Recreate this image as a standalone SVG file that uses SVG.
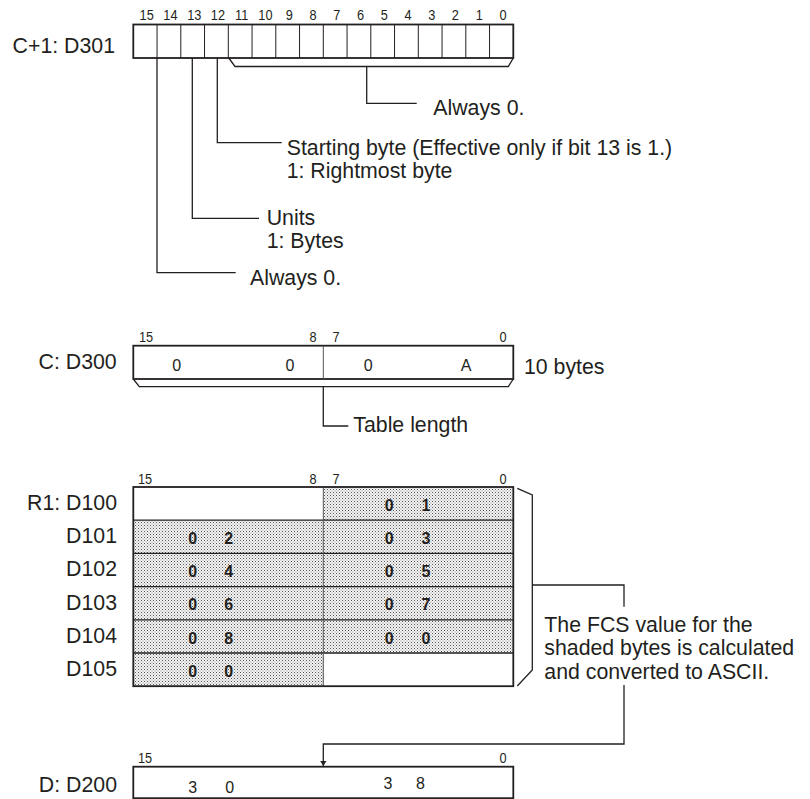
<svg xmlns="http://www.w3.org/2000/svg" width="810" height="799" viewBox="0 0 810 799">
<defs>
<pattern id="dots" width="3" height="3" patternUnits="userSpaceOnUse">
<rect width="3" height="3" fill="#f4f4f4"/>
<rect x="0" y="0" width="1" height="1" fill="#555"/>
<rect x="1.5" y="1.5" width="1" height="1" fill="#888"/>
</pattern>
<marker id="arr" viewBox="0 0 8 10" refX="8" refY="5" markerWidth="5" markerHeight="7" orient="auto" markerUnits="userSpaceOnUse">
<path d="M0,0 L8,5 L0,10 Z" fill="#222"/>
</marker>
</defs>
<style>
.lbl{font-family:"Liberation Sans",Arial,sans-serif;font-size:21.3px;fill:#231f20}
.r{text-anchor:end}
.bit{font-family:"Liberation Sans",Arial,sans-serif;font-size:15px;fill:#231f20;text-anchor:middle}
.dig{font-family:"Liberation Sans",Arial,sans-serif;font-size:16px;fill:#231f20;text-anchor:middle}
.bd{font-family:"Liberation Sans",Arial,sans-serif;font-size:16px;font-weight:bold;fill:#231f20;text-anchor:middle}
.box{fill:#fff;stroke:#231f20;stroke-width:1.8}
.thin{stroke:#231f20;stroke-width:1;fill:none}
.gdiv{stroke:#555;stroke-width:1;fill:none}
.ln{stroke:#231f20;stroke-width:1.3;fill:none}
.sh{fill:url(#dots);stroke:none}
</style>

<g id="reg-d301">
<text class="lbl r" x="115" y="53">C+1: D301</text>
<g class="bit" transform="scale(0.85,1)">
<text x="172.6" y="20">15</text><text x="200.5" y="20">14</text><text x="228.5" y="20">13</text><text x="256.4" y="20">12</text>
<text x="284.4" y="20">11</text><text x="312.3" y="20">10</text><text x="340.3" y="20">9</text><text x="368.2" y="20">8</text>
<text x="396.1" y="20">7</text><text x="424.1" y="20">6</text><text x="452" y="20">5</text><text x="480" y="20">4</text>
<text x="507.9" y="20">3</text><text x="535.8" y="20">2</text><text x="563.8" y="20">1</text><text x="591.7" y="20">0</text>
</g>
<rect class="box" x="133.3" y="24.5" width="380" height="33.5"/>
<path class="thin" d="M157.05,24.5V58 M180.8,24.5V58 M204.55,24.5V58 M228.3,24.5V58 M252.05,24.5V58 M275.8,24.5V58 M299.55,24.5V58 M323.3,24.5V58 M347.05,24.5V58 M370.8,24.5V58 M394.55,24.5V58 M418.3,24.5V58 M442.05,24.5V58 M465.8,24.5V58 M489.55,24.5V58"/>
<path class="ln" d="M228.8,58 L235,66.5 H508.3 L513.3,58"/>
</g>

<g id="note-always0-low">
<text class="lbl" x="433.3" y="115">Always 0.</text>
</g>
<g id="note-starting">
<text class="lbl" x="286.7" y="155">Starting byte (Effective only if bit 13 is 1.)</text>
<text class="lbl" x="286.7" y="177.5">1: Rightmost byte</text>
</g>
<g id="note-units">
<text class="lbl" x="266.7" y="225">Units</text>
<text class="lbl" x="266.7" y="248.3">1: Bytes</text>
</g>
<g id="note-always0-high">
<text class="lbl" x="250" y="285">Always 0.</text>
</g>

<g id="reg-d300">
<text class="lbl r" x="116.7" y="369">C: D300</text>
<g class="bit" transform="scale(0.85,1)">
<text x="171.8" y="342">15</text>
<text x="368.2" y="342">8</text>
<text x="395.3" y="342">7</text>
<text x="591.8" y="342">0</text>
</g>
<rect class="box" x="133.3" y="345.7" width="380" height="33.3"/>
<path class="gdiv" d="M323.3,345.7V379"/>
<path class="ln" d="M133.3,379 L139.3,386.7 H508.3 L513.3,379"/>
<text class="dig" x="176.7" y="370.7">0</text>
<text class="dig" x="290" y="370.7">0</text>
<text class="dig" x="368.3" y="370.7">0</text>
<text class="dig" x="466" y="370.7">A</text>
<text class="lbl" x="524" y="374.3">10 bytes</text>
</g>
<g id="note-table-length">
<text class="lbl" x="353.3" y="432">Table length</text>
</g>

<g id="table-r1">
<g class="bit" transform="scale(0.85,1)">
<text x="170.6" y="484">15</text>
<text x="368.2" y="484">8</text>
<text x="395.3" y="484">7</text>
<text x="591.8" y="484">0</text>
</g>
<rect x="133.3" y="487" width="380" height="199.2" fill="#fff"/>
<rect class="sh" x="323.3" y="487" width="190" height="33.2"/>
<rect class="sh" x="133.3" y="520.2" width="380" height="132.8"/>
<rect class="sh" x="133.3" y="653" width="190" height="33.2"/>
<path class="ln" stroke-width="1.8" d="M133.3,520.2H513.3 M133.3,553.4H513.3 M133.3,586.6H513.3 M133.3,619.8H513.3 M133.3,653H513.3"/>
<path class="gdiv" stroke-width="1.2" d="M323.3,487V686.2"/>
<rect x="133.3" y="487" width="380" height="199.2" fill="none" stroke="#231f20" stroke-width="1.8"/>
<g class="lbl r">
<text x="117" y="510">R1: D100</text>
<text x="117" y="543.2">D101</text>
<text x="117" y="576.4">D102</text>
<text x="117" y="609.6">D103</text>
<text x="117" y="642.8">D104</text>
<text x="117" y="676">D105</text>
</g>
<g class="bd">
<text x="389.3" y="510.7">0</text><text x="426" y="510.7">1</text>
<text x="192.6" y="543.9">0</text><text x="228.8" y="543.9">2</text><text x="389.3" y="543.9">0</text><text x="426" y="543.9">3</text>
<text x="192.6" y="577.1">0</text><text x="228.8" y="577.1">4</text><text x="389.3" y="577.1">0</text><text x="426" y="577.1">5</text>
<text x="192.6" y="610.3">0</text><text x="228.8" y="610.3">6</text><text x="389.3" y="610.3">0</text><text x="426" y="610.3">7</text>
<text x="192.6" y="643.5">0</text><text x="228.8" y="643.5">8</text><text x="389.3" y="643.5">0</text><text x="426" y="643.5">0</text>
<text x="192.6" y="676.7">0</text><text x="228.8" y="676.7">0</text>
</g>
</g>

<g id="note-fcs">
<text class="lbl" x="544.3" y="632">The FCS value for the</text>
<text class="lbl" x="544.3" y="655.3">shaded bytes is calculated</text>
<text class="lbl" x="544.3" y="678.6">and converted to ASCII.</text>
</g>

<g id="reg-d200">
<text class="lbl r" x="117" y="792">D: D200</text>
<g class="bit" transform="scale(0.85,1)">
<text x="170.6" y="763">15</text>
<text x="591.8" y="763">0</text>
</g>
<rect class="box" x="133.3" y="766.7" width="380" height="31.5"/>
<text class="dig" x="192.6" y="793">3</text>
<text class="dig" x="229.8" y="793">0</text>
<text class="dig" x="388" y="789">3</text>
<text class="dig" x="420.4" y="789">8</text>
</g>

<g id="connectors">
<path class="ln" d="M366.7,66.5V103.3H416.7"/>
<path class="ln" d="M217.3,58V142.7H281.7"/>
<path class="ln" d="M192.3,58V218.3H259"/>
<path class="ln" d="M157,58V272.7H235.7"/>
<path class="ln" d="M323.3,386.7V426H348.3"/>
<path class="ln" stroke-width="1.8" d="M517.3,488.3L532.3,495V670L517.3,686"/>
<path class="ln" d="M532.3,585H624V606.7"/>
<path class="ln" d="M624,685V744H323.3V766" marker-end="url(#arr)"/>
</g>
</svg>
